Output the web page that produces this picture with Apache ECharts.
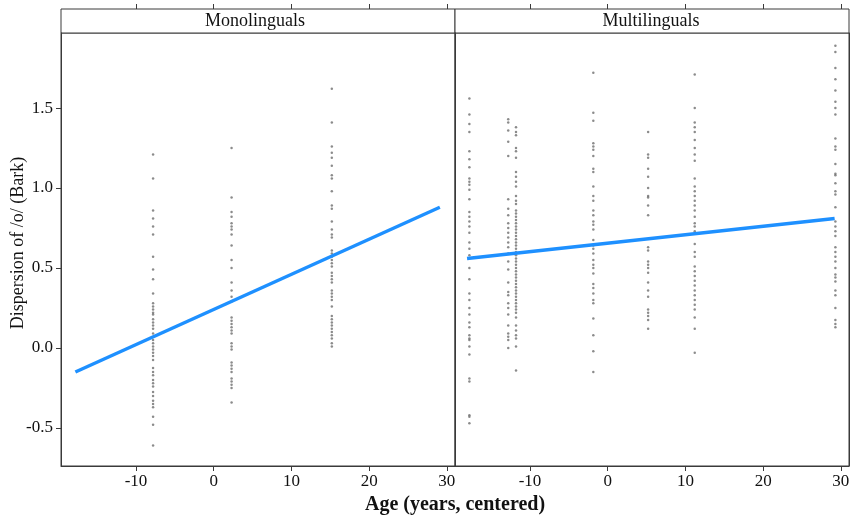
<!DOCTYPE html>
<html>
<head>
<meta charset="utf-8">
<script src="https://cdn.jsdelivr.net/npm/echarts@6/dist/echarts.min.js"></script>
<style>html,body{margin:0;padding:0;background:#fff;}#c{width:850px;height:518px;}</style>
</head>
<body>
<div id="c"></div>
<script>
// ---- data ----
const panelNames = ['Monolinguals', 'Multilinguals'];
const xTicks = [-10, 0, 10, 20, 30];
const yTicks = [-0.5, 0, 0.5, 1.0, 1.5];

const monoAgeX = [-7.8, 2.3, 15.2];
const monoCol1 = [1.21, 1.06, 0.86, 0.81, 0.76, 0.71, 0.57, 0.49, 0.43, 0.34, 0.28, 0.26, 0.24, 0.22, 0.21, 0.18, 0.16, 0.14, 0.12, 0.09, 0.05, 0.03, 0.01, -0.01, -0.03, -0.05, -0.075, -0.125, -0.15, -0.17, -0.2, -0.22, -0.24, -0.275, -0.3, -0.33, -0.35, -0.37, -0.43, -0.48, -0.61];
const monoCol2 = [1.25, 0.94, 0.85, 0.82, 0.78, 0.76, 0.74, 0.71, 0.64, 0.55, 0.50, 0.41, 0.36, 0.32, 0.29, 0.19, 0.17, 0.15, 0.13, 0.11, 0.09, 0.03, 0.01, -0.01, -0.09, -0.11, -0.13, -0.15, -0.19, -0.21, -0.23, -0.25, -0.34];
const monoCol3 = [1.62, 1.41, 1.26, 1.22, 1.19, 1.14, 1.08, 1.06, 0.98, 0.89, 0.87, 0.79, 0.74, 0.71, 0.69, 0.61, 0.59, 0.57, 0.55, 0.53, 0.51, 0.47, 0.45, 0.43, 0.41, 0.36, 0.34, 0.32, 0.30, 0.26, 0.20, 0.18, 0.16, 0.14, 0.12, 0.10, 0.08, 0.06, 0.03, 0.01];

const multiAgeX = [-17.8, -12.8, -11.8, -1.85, 5.2, 11.2, 29.3];
const multiCol1 = [1.56, 1.46, 1.40, 1.35, 1.23, 1.18, 1.13, 1.06, 1.04, 1.02, 0.99, 0.93, 0.85, 0.82, 0.79, 0.76, 0.72, 0.66, 0.62, 0.58, 0.50, 0.43, 0.34, 0.30, 0.25, 0.21, 0.16, 0.13, 0.08, 0.06, 0.05, 0.01, -0.04, -0.19, -0.21, -0.42, -0.43, -0.47];
const multiCol2 = [1.43, 1.41, 1.36, 1.29, 1.20, 0.93, 0.87, 0.83, 0.78, 0.75, 0.72, 0.69, 0.66, 0.63, 0.59, 0.54, 0.49, 0.41, 0.35, 0.33, 0.28, 0.25, 0.21, 0.14, 0.09, 0.07, 0.05, 0.00];
const multiCol3 = [1.38, 1.35, 1.33, 1.25, 1.23, 1.19, 1.10, 1.07, 1.04, 1.01, 0.95, 0.92, 0.90, 0.86, 0.84, 0.82, 0.80, 0.78, 0.76, 0.74, 0.72, 0.70, 0.68, 0.66, 0.64, 0.62, 0.60, 0.58, 0.56, 0.54, 0.52, 0.50, 0.48, 0.46, 0.44, 0.42, 0.40, 0.38, 0.36, 0.34, 0.32, 0.30, 0.28, 0.26, 0.24, 0.22, 0.19, 0.14, 0.11, 0.08, 0.06, 0.01, -0.14];
const multiCol4 = [1.72, 1.47, 1.42, 1.28, 1.26, 1.24, 1.20, 1.12, 1.10, 1.01, 0.95, 0.92, 0.86, 0.83, 0.79, 0.77, 0.74, 0.675, 0.64, 0.62, 0.59, 0.55, 0.52, 0.50, 0.465, 0.40, 0.375, 0.34, 0.30, 0.28, 0.185, 0.08, -0.02, -0.15];
const multiCol5 = [1.35, 1.21, 1.19, 1.12, 1.07, 1.00, 0.95, 0.94, 0.89, 0.83, 0.63, 0.61, 0.54, 0.52, 0.50, 0.47, 0.41, 0.36, 0.32, 0.24, 0.22, 0.20, 0.175, 0.12];
const multiCol6 = [1.71, 1.50, 1.41, 1.38, 1.35, 1.30, 1.25, 1.21, 1.17, 1.06, 1.01, 0.98, 0.95, 0.92, 0.89, 0.86, 0.82, 0.78, 0.76, 0.73, 0.65, 0.60, 0.57, 0.51, 0.48, 0.45, 0.42, 0.39, 0.36, 0.33, 0.30, 0.27, 0.24, 0.19, 0.12, -0.03];
const multiCol7 = [1.89, 1.85, 1.75, 1.68, 1.61, 1.54, 1.50, 1.46, 1.31, 1.26, 1.24, 1.15, 1.09, 1.08, 1.03, 0.98, 0.96, 0.88, 0.79, 0.76, 0.73, 0.70, 0.63, 0.60, 0.57, 0.54, 0.50, 0.46, 0.44, 0.415, 0.36, 0.33, 0.25, 0.175, 0.15, 0.13];

const monoLineX = [-17.8, 29.1];
const monoLineY = [-0.15, 0.88];
const multiLineX = [-18.1, 29.2];
const multiLineY = [0.56, 0.81];

// ---- build ----
function pts(xs, cols) {
  const out = [];
  cols.forEach((c, i) => c.forEach(v => out.push([xs[i], v])));
  return out;
}
const monoPts = pts(monoAgeX, [monoCol1, monoCol2, monoCol3]);
const multiPts = pts(multiAgeX, [multiCol1, multiCol2, multiCol3, multiCol4, multiCol5, multiCol6, multiCol7]);
const monoLine = monoLineX.map((x, i) => [x, monoLineY[i]]);
const multiLine = multiLineX.map((x, i) => [x, multiLineY[i]]);

const SERIF = '"Liberation Serif", "DejaVu Serif", serif';
const FRAME = '#3a3a3a';
const XMIN = -19.65, XMAX = 31.05, YMIN = -0.7375, YMAX = 1.969;
const G = [{left: 61, top: 33, width: 394, height: 433}, {left: 455, top: 33, width: 394, height: 433}];

function xAx(gi, pos, labels) {
  return {
    type: 'value', gridIndex: gi, position: pos, min: XMIN, max: XMAX,
    offset: pos === 'top' ? 24 : 0,
    splitLine: {show: false},
    axisLine: {show: pos !== 'top', onZero: false, lineStyle: {color: FRAME}},
    axisTick: {show: true, inside: false, length: 5, customValues: xTicks, lineStyle: {color: FRAME}},
    axisLabel: {show: labels, customValues: xTicks, margin: 7, fontFamily: SERIF, fontSize: 17, color: '#111',
      formatter: v => String(Math.round(v))}
  };
}
function yAx(gi, pos, labels, ticks) {
  return {
    type: 'value', gridIndex: gi, position: pos, min: YMIN, max: YMAX,
    splitLine: {show: false},
    axisLine: {show: true, onZero: false, lineStyle: {color: FRAME}},
    axisTick: {show: ticks, inside: false, length: 5, customValues: yTicks, lineStyle: {color: FRAME}},
    axisLabel: {show: labels, customValues: yTicks, margin: 8, fontFamily: SERIF, fontSize: 17, color: '#111',
      formatter: v => v.toFixed(1)}
  };
}

const chart = echarts.init(document.getElementById('c'), null, {renderer: 'canvas'});
chart.setOption({
  animation: false,
  backgroundColor: '#fff',
  grid: G.map(g => Object.assign({show: true, borderColor: FRAME, borderWidth: 1, backgroundColor: 'transparent',
    containLabel: false, outerBoundsMode: 'none'}, g)),
  xAxis: [xAx(0, 'bottom', true), xAx(1, 'bottom', true), xAx(0, 'top', false), xAx(1, 'top', false)],
  yAxis: [yAx(0, 'left', true, true), yAx(1, 'left', false, false), yAx(1, 'right', false, true)],
  graphic: [
    {type: 'rect', shape: {x: 61, y: 9, width: 394, height: 24}, style: {fill: '#fff', stroke: FRAME, lineWidth: 1}},
    {type: 'rect', shape: {x: 455, y: 9, width: 394, height: 24}, style: {fill: '#fff', stroke: FRAME, lineWidth: 1}},
    {type: 'text', x: 255, y: 21, style: {text: panelNames[0], font: '18px ' + SERIF, fill: '#111', textAlign: 'center', textVerticalAlign: 'middle'}},
    {type: 'text', x: 651, y: 21, style: {text: panelNames[1], font: '18px ' + SERIF, fill: '#111', textAlign: 'center', textVerticalAlign: 'middle'}},
    {type: 'text', x: 18, y: 243, rotation: Math.PI / 2, style: {text: 'Dispersion of /o/ (Bark)', font: '18px ' + SERIF, fill: '#111', textAlign: 'center', textVerticalAlign: 'middle'}},
    {type: 'text', x: 455, y: 505, style: {text: 'Age (years, centered)', font: 'bold 20px ' + SERIF, fill: '#111', textAlign: 'center', textVerticalAlign: 'middle'}}
  ],
  series: [
    {type: 'scatter', xAxisIndex: 0, yAxisIndex: 0, data: monoPts, symbol: 'circle', symbolSize: 2.5, itemStyle: {color: '#6e6e6e'}},
    {type: 'scatter', xAxisIndex: 1, yAxisIndex: 1, data: multiPts, symbol: 'circle', symbolSize: 2.5, itemStyle: {color: '#6e6e6e'}},
    {type: 'line', xAxisIndex: 0, yAxisIndex: 0, data: monoLine, showSymbol: false, lineStyle: {color: '#1E90FF', width: 3.5}},
    {type: 'line', xAxisIndex: 1, yAxisIndex: 1, data: multiLine, showSymbol: false, lineStyle: {color: '#1E90FF', width: 3.5}}
  ]
});
</script>
</body>
</html>
